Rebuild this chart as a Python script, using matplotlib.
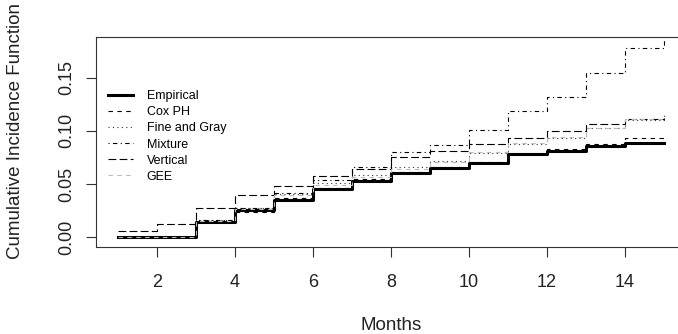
import numpy as np
import matplotlib
matplotlib.use("Agg")
import matplotlib.pyplot as plt

plt.rcParams['font.family'] = ['Liberation Sans', 'DejaVu Sans']

# months 1..15, step values (value at month i holds until month i+1)
months = np.arange(1, 16)

empirical = [0.0, 0.0, 0.0147, 0.0257, 0.035, 0.0451, 0.0532, 0.0600, 0.0650,
             0.0700, 0.0780, 0.0814, 0.0860, 0.0883, 0.0883]
cox_ph = [0.0, 0.0, 0.0150, 0.0240, 0.0365, 0.0465, 0.0545, 0.0610, 0.0660,
          0.0712, 0.0785, 0.0827, 0.0877, 0.0930, 0.0930]
fine_gray = [0.0, 0.0, 0.0160, 0.0275, 0.0405, 0.0507, 0.0585, 0.0660, 0.0717,
             0.0790, 0.0877, 0.0930, 0.1024, 0.1100, 0.1165]
mixture = [0.0, 0.0, 0.0165, 0.0280, 0.0413, 0.0540, 0.0664, 0.0800, 0.0867,
           0.1008, 0.1187, 0.1320, 0.1547, 0.1776, 0.1860]
vertical = [0.0062, 0.0125, 0.0272, 0.0398, 0.0482, 0.0576, 0.0640, 0.0757, 0.0811,
            0.0874, 0.0936, 0.1002, 0.1065, 0.1110, 0.1120]
gee = [0.0, 0.0, 0.0155, 0.0265, 0.0395, 0.0495, 0.0570, 0.0645, 0.0705,
       0.0800, 0.0890, 0.0945, 0.1030, 0.1110, 0.1120]

series = [
    ("Empirical", empirical, dict(color="black", lw=2.2, linestyle="-")),
    ("Cox PH", cox_ph, dict(color="black", lw=0.8, dashes=(4, 4))),
    ("Fine and Gray", fine_gray, dict(color="#333333", lw=0.8, dashes=(1, 3))),
    ("Mixture", mixture, dict(color="black", lw=0.8, dashes=(1, 3, 4, 3))),
    ("Vertical", vertical, dict(color="black", lw=0.8, dashes=(7, 3))),
    ("GEE", gee, dict(color="#bbbbbb", lw=0.8, dashes=(4, 4))),
]

fig = plt.figure(figsize=(6.78, 3.34), dpi=100)
# right edge runs past the figure, as in the cropped original
ax = fig.add_axes([0.1413, 0.2614, 0.8705, 0.6287])

for name, vals, style in series:
    ax.plot(months, vals, drawstyle="steps-post", label=name, **style)

ax.set_xlim(0.44, 15.56)
ax.set_ylim(-0.0088, 0.1885)
ax.set_xticks([2, 4, 6, 8, 10, 12, 14])
ax.set_yticks([0.0, 0.05, 0.10, 0.15])
ax.set_yticklabels(["0.00", "0.05", "0.10", "0.15"], rotation=90, va="center")

for sp in ax.spines.values():
    sp.set_linewidth(0.8)
    sp.set_color("#333333")
ax.tick_params(direction="out", length=7.5, width=0.8, color="#333333",
               labelsize=13, labelcolor="#222222")
ax.tick_params(axis="x", pad=12)
ax.tick_params(axis="y", pad=7)

ax.set_xlabel("Months", fontsize=13.5, color="#222222", labelpad=19)
ax.set_ylabel("Cumulative Incidence Function", fontsize=13.5, color="#222222")
ax.yaxis.set_label_coords(-0.121, 0.55)

ax.legend(loc="upper left", bbox_to_anchor=(0.012, 0.769), frameon=False,
          fontsize=9, handlelength=2.0, handletextpad=1.1, labelspacing=0.33,
          borderaxespad=0)

fig.savefig("out.png", dpi=100)
